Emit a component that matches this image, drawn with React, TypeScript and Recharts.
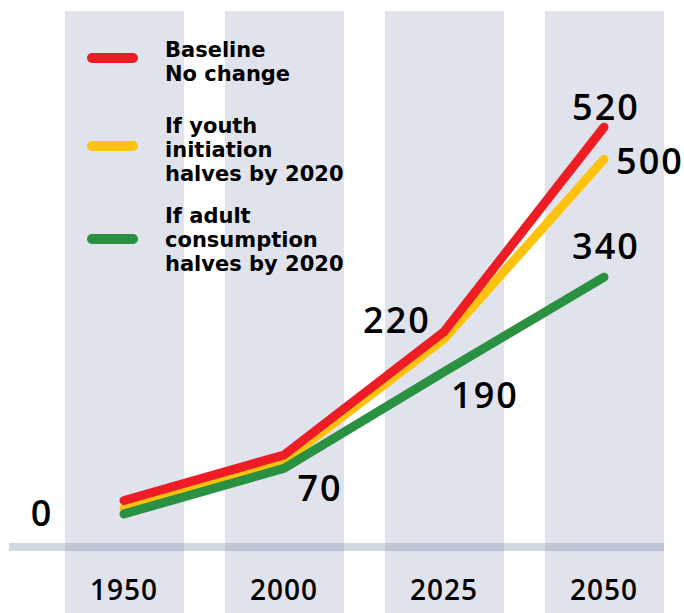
import React from "react";
import {
  ComposedChart,
  Bar,
  Line,
  XAxis,
  YAxis,
  Legend,
  LabelList,
  ReferenceLine,
} from "recharts";

// categories on the x axis
const years = ["1950", "2000", "2025", "2050"];

// plotted heights (the picture is not drawn to scale)
const baselineLine = [52, 103, 241, 470];
const youthLine = [44, 96, 233, 434];
const adultLine = [37, 88, 196, 302];

// value labels printed next to the lines
const baselineLabels = [null, null, "220", "520"];
const youthLabels = [null, null, null, "500"];
const adultLabels = ["0", "70", "190", "340"];

const Y_MAX = 600;

const NUM_FONT = "'Open Sans', sans-serif";
const LEGEND_FONT = "'DejaVu Sans', sans-serif";

const series = [
  { key: "baseline", name: "Baseline\nNo change", color: "#ee1c25", gap: 28, swatchDy: -4 },
  { key: "youth", name: "If youth\ninitiation\nhalves by 2020", color: "#ffc20f", gap: 18, swatchDy: -4 },
  { key: "adult", name: "If adult\nconsumption\nhalves by 2020", color: "#2a9143", gap: 0, swatchDy: -1 },
];

// label offsets from the point, by series and index
const labelOffsets: Record<string, (number[] | null)[]> = {
  baseline: [null, null, [-47, -12], [2, -21]],
  youth: [null, null, null, [46, 1]],
  adult: [[-82, -1], [36, 19], [41, 23], [2, -32]],
};

const data = years.map((year, i) => ({
  year,
  baseline: baselineLine[i],
  youth: youthLine[i],
  adult: adultLine[i],
  baselineLabel: baselineLabels[i],
  youthLabel: youthLabels[i],
  adultLabel: adultLabels[i],
}));

const BandShape = (props: any) => {
  const { x, y, width, height } = props;
  // bands run on past the axis to the bottom edge
  return <rect x={x} y={y} width={width} height={height + 70} fill="#e0e3eb" />;
};

const BaseLineShape = (props: any) => {
  const { x1, y1, x2 } = props;
  return (
    <line
      x1={x1 - 35}
      x2={x2 - 20}
      y1={y1}
      y2={y1}
      stroke="#6f8aa8"
      strokeOpacity={0.32}
      strokeWidth={8}
    />
  );
};

const YearTick = (props: any) => {
  const { x, y, payload } = props;
  return (
    <text
      x={x}
      y={y + 34}
      textAnchor="middle"
      dominantBaseline="central"
      fontFamily={NUM_FONT}
      fontWeight={600}
      fontSize={28}
      letterSpacing={1}
      fill="#000"
    >
      {payload.value}
    </text>
  );
};

const makeLabel = (key: string) => (props: any) => {
  const { x, y, value, index } = props;
  const off = labelOffsets[key][index];
  if (value == null || !off) return null;
  return (
    <text
      x={x + off[0]}
      y={y + off[1]}
      textAnchor="middle"
      dominantBaseline="central"
      fontFamily={NUM_FONT}
      fontWeight={600}
      fontSize={36}
      letterSpacing={2}
      fill="#000"
    >
      {value}
    </text>
  );
};

const LegendBox = () => (
  <div style={{ fontFamily: LEGEND_FONT, fontWeight: 700, fontSize: 21, lineHeight: "24px", color: "#000" }}>
    {series.map((s) => (
      <div key={s.key} style={{ display: "flex", alignItems: "center", marginBottom: s.gap }}>
        <div
          style={{
            width: 51,
            height: 10,
            borderRadius: 5,
            background: s.color,
            marginRight: 27,
            position: "relative",
            top: s.swatchDy,
          }}
        />
        <div style={{ whiteSpace: "pre-line" }}>{s.name}</div>
      </div>
    ))}
  </div>
);

// yellow first, then green, red on top
const drawOrder = ["youth", "adult", "baseline"];

export default function App() {
  return (
    <div style={{ width: 684, height: 613, position: "relative" }}>
      <style>{`body { margin: 0; }`}</style>
      <ComposedChart
        width={684}
        height={613}
        data={data}
        margin={{ top: 11, right: 0, left: 44, bottom: 0 }}
      >
        <XAxis
          dataKey="year"
          axisLine={false}
          tickLine={false}
          height={66}
          tick={<YearTick />}
          interval={0}
        />
        <YAxis hide domain={[0, Y_MAX]} />
        <Bar
          dataKey={() => Y_MAX}
          barSize={119}
          shape={<BandShape />}
          isAnimationActive={false}
          legendType="none"
        />
        <ReferenceLine y={0} shape={<BaseLineShape />} />
        {/* centered/middle so the legend takes no room from the plot */}
        <Legend
          content={<LegendBox />}
          layout="vertical"
          verticalAlign="middle"
          align="center"
          wrapperStyle={{ position: "absolute", left: 87, top: 38, width: 300, height: "auto" }}
        />
        {drawOrder.map((key) => {
          const s = series.find((d) => d.key === key)!;
          return (
            <Line
              key={key}
              dataKey={key}
              name={s.name}
              stroke={s.color}
              strokeWidth={9}
              strokeLinecap="round"
              dot={false}
              activeDot={false}
              isAnimationActive={false}
            >
              <LabelList dataKey={`${key}Label`} content={makeLabel(key)} />
            </Line>
          );
        })}
      </ComposedChart>
    </div>
  );
}
